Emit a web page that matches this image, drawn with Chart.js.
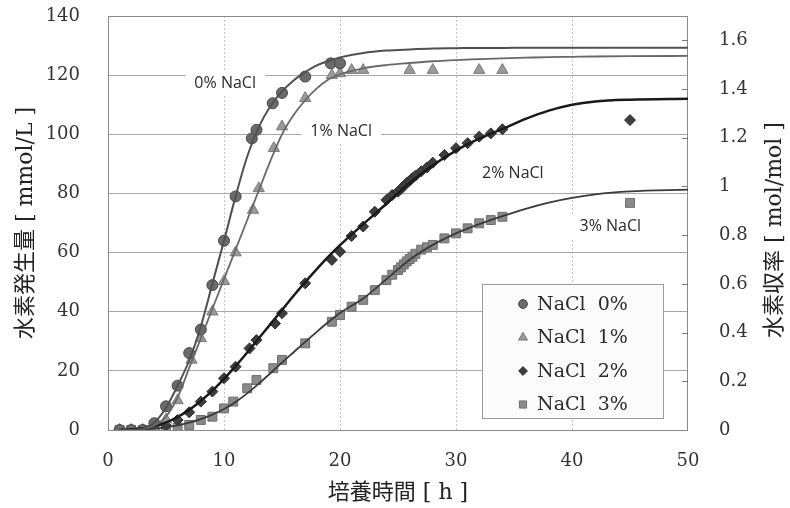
<!DOCTYPE html>
<html>
<head>
<meta charset="utf-8">
<script src="https://cdn.jsdelivr.net/npm/chart.js@4.4.1/dist/chart.umd.min.js"></script>
<style>
    html, body { margin: 0; padding: 0; background: #fff; }
</style>
</head>
<body>
<canvas id="chartCanvas" width="790" height="508"></canvas>
<script>
// measured points (hours, mmol/L)
const timeNaCl0 = [1, 2, 3, 4, 5, 6, 7, 8, 9, 10, 11, 12.4, 12.8, 14.2, 15, 17, 19.2, 20];
const valueNaCl0 = [0, 0, 0, 2.3, 8, 15, 26, 34, 49, 64, 79, 98.6, 101.5, 110.5, 114, 119.5, 124, 124];

const timeNaCl1 = [1, 2, 3, 4, 5, 6, 7.2, 8, 9, 10, 11, 12.5, 13, 14.3, 15, 17, 19.3, 20, 21, 22, 26, 28, 32, 34];
const valueNaCl1 = [0, 0, 0, 0.8, 3.5, 10, 23.7, 31, 40, 50.3, 60, 74.4, 81.7, 95.3, 102.6, 112.2, 120, 120.6, 121.7, 121.7, 121.7, 121.7, 121.7, 121.7];

const timeNaCl2 = [1, 2, 3, 4, 5, 6, 7, 8, 9, 10, 11, 12.2, 12.8, 14.4, 15, 17, 19.3, 20, 21, 22, 23, 24, 24.5, 25, 25.25, 25.5, 25.75, 26, 26.25, 26.5, 27, 27.5, 28, 29, 30, 31, 32, 33, 34, 45];
const valueNaCl2 = [0, 0, 0, 0.5, 1.5, 3.4, 6, 9.6, 13, 17.5, 21.4, 27.6, 30.4, 36, 39.5, 49.6, 57.5, 60.3, 65.6, 68.8, 73.8, 77.8, 79.5, 80.6, 81.5, 82.5, 83.5, 84.3, 85.2, 86, 87.5, 88.8, 90.4, 93, 95.3, 97, 99.2, 100.3, 101.7, 104.8];

const timeNaCl3 = [1, 2, 3, 4, 5, 6, 7, 8, 9, 10, 10.8, 12, 12.8, 14.25, 15, 17, 19.3, 20, 21, 22, 23, 24, 24.5, 25, 25.25, 25.5, 25.75, 26, 26.25, 26.5, 27, 27.5, 28, 29, 30, 31, 32, 33, 34, 45];
const valueNaCl3 = [0, 0, 0, 0, 0.3, 0.8, 1.7, 3.4, 4.5, 7.3, 9.6, 14.1, 16.9, 20.9, 23.7, 29.3, 36.6, 38.9, 41.7, 44, 47.3, 50.7, 52.5, 54.1, 55, 56, 57, 57.8, 58.6, 59.6, 61, 61.8, 62.6, 64.8, 66.5, 68.2, 69.9, 71, 72.1, 76.8];

// fitted curves
const curveTime = [1, 2, 3, 4, 5, 6, 7, 8, 9, 10, 11, 12, 13, 14, 15, 16, 17, 18, 19, 20, 22, 24, 26, 28, 30, 32, 34, 36, 38, 40, 42, 45, 50];
const curveNaCl0 = [0, 0, 0.5, 2.5, 7.5, 15, 23.5, 35, 49.5, 64, 79, 92.5, 102.5, 109.5, 114.5, 118.2, 121, 123.3, 124.8, 126, 127.5, 128.3, 128.7, 129, 129.1, 129.2, 129.2, 129.3, 129.3, 129.3, 129.3, 129.3, 129.3];
const curveNaCl1 = [0, 0, 0.3, 1.5, 4.5, 11, 21, 31, 41, 51, 61, 71, 81, 91, 100, 106.5, 111.5, 115.5, 118.5, 120.3, 122.3, 123.4, 124.1, 124.7, 125.1, 125.4, 125.7, 125.9, 126.1, 126.2, 126.3, 126.4, 126.5];
const curveNaCl2 = [0, 0.2, 0.6, 1.3, 2.6, 4.4, 6.8, 9.8, 13.3, 17.3, 21.6, 26.2, 31, 35.8, 40.6, 45.4, 50, 54.4, 58.6, 62.5, 69.6, 76.5, 83.5, 89.5, 94.5, 98.5, 101.8, 105.2, 108, 110, 111.1, 111.7, 112];
const curveNaCl3 = [0, 0, 0.2, 0.5, 1, 1.6, 2.5, 3.7, 5.2, 7.1, 9.5, 12.4, 15.7, 19.2, 22.8, 26.3, 29.8, 33.2, 36.5, 39.6, 44.5, 51, 57.6, 62.6, 66.5, 69.6, 72.3, 74.8, 76.9, 78.5, 79.7, 80.7, 81.3];

const seriesNames = ['NaCl  0%', 'NaCl  1%', 'NaCl  2%', 'NaCl  3%'];
const curveLabels = ['0% NaCl', '1% NaCl', '2% NaCl', '3% NaCl'];
const curveLabelX = [10.1, 20.1, 34.9, 43.3];
const curveLabelY = [117.3, 100.9, 86.8, 68.8];

const leftTicks = [0, 20, 40, 60, 80, 100, 120, 140];
const rightTicks = [0, 0.2, 0.4, 0.6, 0.8, 1, 1.2, 1.4, 1.6];
const xTicks = [0, 10, 20, 30, 40, 50];

const markerStyles = [
    { pointStyle: 'circle', radius: 5.5, fill: '#6b6b6b', border: '#474747' },
    { pointStyle: 'triangle', radius: 6.5, fill: '#9a9a9a', border: '#7a7a7a' },
    { pointStyle: 'rectRot', radius: 5.5, fill: '#3e3e3e', border: '#2c2c2c' },
    { pointStyle: 'rect', radius: 6.3, fill: '#8a8a8a', border: '#6e6e6e' },
];
const curveStyles = [
    { color: '#505050', width: 2 },
    { color: '#686868', width: 1.8 },
    { color: '#1a1a1a', width: 2.5 },
    { color: '#3a3a3a', width: 1.8 },
];

const serifFont = "'DejaVu Serif', 'Noto Sans CJK JP', serif";

function toPoints(xs, ys) {
    return xs.map((x, i) => ({ x: x, y: ys[i] }));
}

const pointSets = [
    toPoints(timeNaCl0, valueNaCl0),
    toPoints(timeNaCl1, valueNaCl1),
    toPoints(timeNaCl2, valueNaCl2),
    toPoints(timeNaCl3, valueNaCl3),
];
const curveSets = [curveNaCl0, curveNaCl1, curveNaCl2, curveNaCl3].map((c) => toPoints(curveTime, c));

const datasets = [];
curveSets.forEach((pts, i) => {
    datasets.push({
        type: 'line',
        label: 'fit ' + i,
        data: pts,
        borderColor: curveStyles[i].color,
        borderWidth: curveStyles[i].width,
        pointRadius: 0,
        cubicInterpolationMode: 'monotone',
        fill: false,
        order: 0,
    });
});
pointSets.forEach((pts, i) => {
    const m = markerStyles[i];
    datasets.push({
        type: 'scatter',
        label: seriesNames[i],
        data: pts,
        pointStyle: m.pointStyle,
        pointRadius: m.radius,
        backgroundColor: m.fill,
        borderColor: m.border,
        borderWidth: 1,
        order: 1,
    });
});

// labels beside the curves, the boxed legend, right-hand title and frame
const decorPlugin = {
    id: 'decor',
    beforeDatasetsDraw(chart) {
        const { ctx, chartArea: a, scales } = chart;
        ctx.save();
        ctx.font = "16px 'Open Sans', sans-serif";
        ctx.textAlign = 'center';
        ctx.textBaseline = 'middle';
        curveLabels.forEach((txt, i) => {
            const px = scales.x.getPixelForValue(curveLabelX[i]);
            const py = scales.y.getPixelForValue(curveLabelY[i]);
            const w = ctx.measureText(txt).width + 18;
            ctx.fillStyle = '#fff';
            ctx.fillRect(px - w / 2, py - 12, w, 24);
            ctx.fillStyle = '#2a2a2a';
            ctx.fillText(txt, px, py);
        });
        // frame
        ctx.strokeStyle = '#8a8a8a';
        ctx.lineWidth = 1;
        ctx.strokeRect(a.left + 0.5, a.top + 0.5, a.right - a.left - 1, a.bottom - a.top);
        // small inner ticks on the right axis
        ctx.strokeStyle = '#777';
        rightTicks.forEach((v) => {
            if (v === 0) return;
            const py = Math.round(scales.y2.getPixelForValue(v)) + 0.5;
            ctx.beginPath();
            ctx.moveTo(a.right - 6, py);
            ctx.lineTo(a.right, py);
            ctx.stroke();
        });
        ctx.restore();
    },
    afterDatasetsDraw(chart) {
        const { ctx } = chart;
        ctx.save();
        // legend box
        const bx = 482, by = 284, bw = 181, bh = 134;
        ctx.fillStyle = '#fbfbfb';
        ctx.fillRect(bx, by, bw, bh);
        ctx.strokeStyle = '#9a9a9a';
        ctx.lineWidth = 1;
        ctx.strokeRect(bx + 0.5, by + 0.5, bw, bh);
        ctx.font = '19px ' + serifFont;
        ctx.textAlign = 'left';
        ctx.textBaseline = 'middle';
        seriesNames.forEach((name, i) => {
            const cy = by + 20 + i * 33.5;
            const m = markerStyles[i];
            ctx.fillStyle = m.fill;
            ctx.strokeStyle = m.border;
            Chart.helpers.drawPoint(ctx, { pointStyle: m.pointStyle, radius: m.radius * 0.8, borderWidth: 1 }, 523, cy);
            ctx.fillStyle = '#2a2a2a';
            ctx.fillText(name, 537, cy + 1);
        });
        // right axis title, reading bottom to top
        ctx.translate(775, 230);
        ctx.rotate(-Math.PI / 2);
        ctx.font = '22px ' + serifFont;
        ctx.textAlign = 'center';
        ctx.fillStyle = '#222';
        ctx.fillText('水素収率 [ mol/mol ]', 0, 0);
        ctx.restore();
    },
};

function fitVertical(width) {
    return (axis) => {
        axis.width = width;
        axis.paddingTop = 0;
        axis.paddingBottom = 0;
    };
}

const ctx = document.getElementById('chartCanvas').getContext('2d');
window.chartInstance = new Chart(ctx, {
    data: { datasets: datasets },
    plugins: [decorPlugin],
    options: {
        responsive: false,
        animation: false,
        layout: { padding: { left: 0, right: 0, top: 16, bottom: 0 } },
        plugins: {
            legend: { display: false },
            tooltip: { enabled: false },
        },
        scales: {
            x: {
                type: 'linear',
                min: 0,
                max: 50,
                afterBuildTicks: (axis) => { axis.ticks = xTicks.map((v) => ({ value: v })); },
                afterFit: (axis) => { axis.height = 78; },
                grid: {
                    drawTicks: false,
                    color: (c) => (c.tick && c.tick.value > 0 && c.tick.value < 50 ? '#c4c4c4' : 'rgba(0,0,0,0)'),
                },
                border: { display: false, dash: [2, 2] },
                ticks: { padding: 21, color: '#333', font: { family: serifFont, size: 18 } },
                title: {
                    display: true,
                    text: '培養時間 [ h ]',
                    color: '#222',
                    padding: { top: 2, bottom: 2 },
                    font: { family: serifFont, size: 22 },
                },
            },
            y: {
                position: 'left',
                min: 0,
                max: 140,
                afterBuildTicks: (axis) => { axis.ticks = leftTicks.map((v) => ({ value: v })); },
                afterFit: fitVertical(108),
                grid: { drawTicks: false, color: '#a8a8a8' },
                border: { display: false },
                ticks: { padding: 28, color: '#333', font: { family: serifFont, size: 18 } },
                title: {
                    display: true,
                    text: '水素発生量 [ mmol/L ]',
                    color: '#222',
                    padding: { top: 13, bottom: 0 },
                    font: { family: serifFont, size: 22 },
                },
            },
            y2: {
                position: 'right',
                min: 0,
                max: 1.7,
                afterBuildTicks: (axis) => { axis.ticks = rightTicks.map((v) => ({ value: v })); },
                afterFit: fitVertical(102),
                grid: { display: false },
                border: { display: false },
                ticks: {
                    padding: 23,
                    color: '#333',
                    font: { family: serifFont, size: 18 },
                    callback: (v) => String(Math.round(v * 10) / 10),
                },
            },
        },
    },
});
</script>
</body>
</html>
